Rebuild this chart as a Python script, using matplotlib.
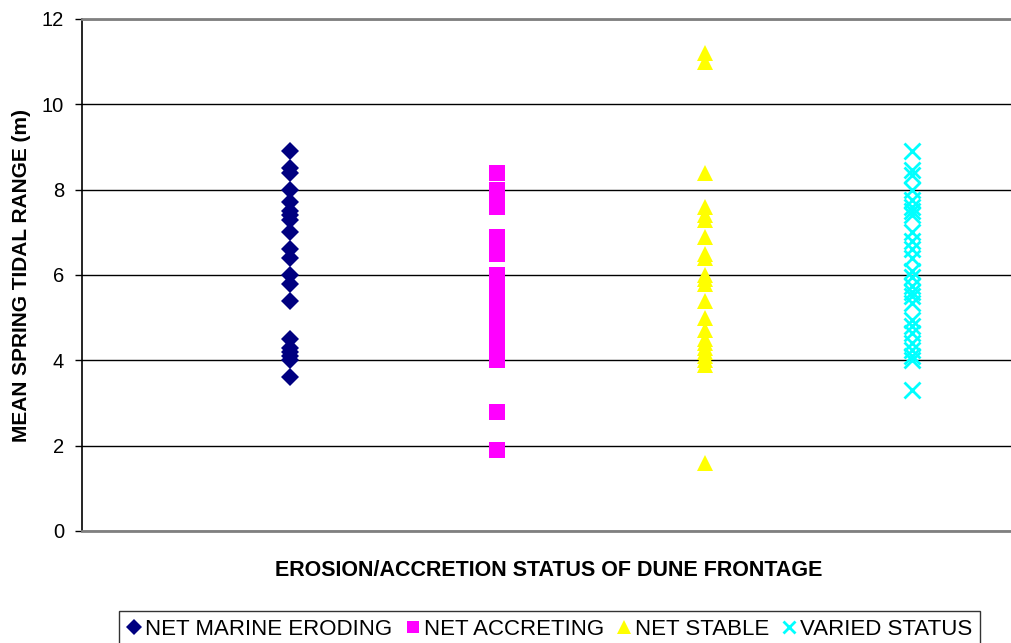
import numpy as np
import matplotlib.pyplot as plt

plt.rcParams['font.family'] = ['Liberation Sans', 'DejaVu Sans']

# values (m)
eroding = [8.9, 8.5, 8.4, 8.0, 7.7, 7.5, 7.4, 7.3, 7.0, 6.6, 6.4, 6.0, 5.8, 5.4,
           4.5, 4.3, 4.2, 4.1, 4.0, 3.6]
accreting = [8.4, 8.0, 7.8, 7.6, 6.9, 6.7, 6.5, 6.0, 5.8, 5.6, 5.4, 5.2, 5.0,
             4.8, 4.6, 4.4, 4.2, 4.0, 2.8, 1.9]
stable = [11.2, 11.0, 8.4, 7.6, 7.4, 7.3, 6.9, 6.5, 6.4, 6.0, 5.9, 5.8, 5.4,
          5.0, 4.7, 4.5, 4.4, 4.3, 4.2, 4.1, 4.0, 3.9, 1.6]
varied = [8.9, 8.45, 8.35, 8.0, 7.75, 7.6, 7.5, 7.4, 7.0, 6.8, 6.6, 6.4, 6.1,
          5.95, 5.75, 5.6, 5.5, 5.35, 4.95, 4.8, 4.65, 4.4, 4.25, 4.1, 4.0, 3.3]

names = ['NET MARINE ERODING', 'NET ACCRETING', 'NET STABLE', 'VARIED STATUS']
groups = [eroding, accreting, stable, varied]
colors = ['#000080', '#FF00FF', '#FFFF00', '#00FFFF']
markers = ['D', 's', '^', 'x']
sizes = [9.5, 11, 11.5, 11]

fig = plt.figure(figsize=(10.12, 6.43), dpi=100)
ax = fig.add_axes([82 / 1012, 1 - 531 / 643, (1016 - 82) / 1012, (531 - 19) / 643])

for i, (vals, name) in enumerate(zip(groups, names)):
    xs = np.full(len(vals), i + 1)
    if markers[i] == 'x':
        ax.plot(xs, vals, linestyle='none', marker='x', ms=sizes[i], mew=2,
                color=colors[i], label=name, clip_on=False)
    else:
        ax.plot(xs, vals, linestyle='none', marker=markers[i], ms=sizes[i],
                mew=0, color=colors[i], label=name, clip_on=False)

ax.set_xlim(0, 4.5)
ax.set_ylim(0, 12)
ax.set_yticks(range(0, 13, 2))
ax.set_xticks([])
ax.yaxis.grid(True, color='black', linewidth=1)
ax.set_axisbelow(True)
for side in ['top', 'bottom']:
    ax.spines[side].set_color('#808080')
    ax.spines[side].set_linewidth(2)
ax.spines['right'].set_visible(False)
ax.spines['left'].set_color('black')
ax.spines['left'].set_linewidth(1.2)
ax.tick_params(axis='y', length=5, width=1, labelsize=14.5, pad=8)

ax.set_ylabel('MEAN SPRING TIDAL RANGE (m)', fontsize=15, fontweight='bold', labelpad=8)
ax.set_xlabel('EROSION/ACCRETION STATUS OF DUNE FRONTAGE', fontsize=15.5,
              fontweight='bold', labelpad=21)

leg = fig.legend(loc='upper center', bbox_to_anchor=(0.543, 1 - 611 / 643), ncol=4,
                 fontsize=16, frameon=True, fancybox=False, edgecolor='black',
                 handlelength=0.7, handletextpad=0.15, columnspacing=0.55,
                 borderpad=0.35, borderaxespad=0, markerscale=0.85)
leg.get_frame().set_linewidth(1)

fig.savefig('out.png', dpi=100)
